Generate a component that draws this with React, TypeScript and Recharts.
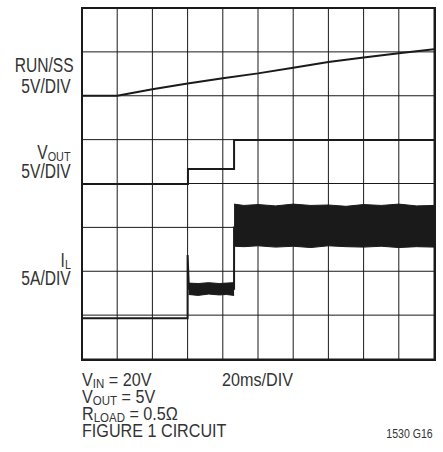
import React from 'react';
import { ComposedChart, Line, Area, XAxis, YAxis, CartesianGrid } from 'recharts';

// time axis: 10 divisions, level axis: 8 divisions (scope screen)
const xTicks = [0, 1, 2, 3, 4, 5, 6, 7, 8, 9, 10];
const yTicks = [0, 1, 2, 3, 4, 5, 6, 7, 8];

const runSsTime = [0, 1.0, 2.0, 3.0, 4.0, 5.0, 6.0, 7.0, 8.0, 9.0, 10];
const runSsLevel = [6.0, 6.0, 6.15, 6.28, 6.4, 6.51, 6.64, 6.77, 6.87, 6.97, 7.06];

const voutTime = [0, 3.01, 3.01, 4.32, 4.32, 10];
const voutLevel = [3.99, 3.99, 4.33, 4.33, 4.99, 4.99];

const ilTime = [0, 3.0, 3.0, 3.03, 3.03, 4.32, 4.32, 10];
const ilLevel = [0.93, 0.93, 2.37, 1.75, 1.6, 1.6, 3.0, 3.0];

// noisy inductor current bands (low / high edge)
const band1Time = [3.03, 3.3, 3.6, 3.9, 4.1, 4.32];
const band1Low = [1.47, 1.45, 1.48, 1.46, 1.47, 1.45];
const band1High = [1.73, 1.72, 1.74, 1.72, 1.73, 1.74];

const band2Time = [4.32, 4.6, 5.0, 5.5, 6.0, 6.5, 7.0, 7.5, 8.0, 8.5, 9.0, 9.5, 10];
const band2Low = [2.57, 2.56, 2.58, 2.55, 2.57, 2.54, 2.58, 2.56, 2.55, 2.57, 2.54, 2.56, 2.55];
const band2High = [3.53, 3.5, 3.52, 3.49, 3.53, 3.5, 3.51, 3.48, 3.52, 3.5, 3.53, 3.49, 3.5];

const runSsData = runSsTime.map((t, i) => ({ t, v: runSsLevel[i] }));
const voutData = voutTime.map((t, i) => ({ t, v: voutLevel[i] }));
const ilData = ilTime.map((t, i) => ({ t, v: ilLevel[i] }));
const band1Data = band1Time.map((t, i) => ({ t, r: [band1Low[i], band1High[i]] }));
const band2Data = band2Time.map((t, i) => ({ t, r: [band2Low[i], band2High[i]] }));

const font = "'Liberation Sans', Arial, sans-serif";
const ink = '#1a1a1a';

// narrow look of the original lettering
const narrowR: React.CSSProperties = { display: 'inline-block', transform: 'scaleX(0.8)', transformOrigin: 'right' };
const narrowL: React.CSSProperties = { display: 'inline-block', transform: 'scaleX(0.85)', transformOrigin: 'left' };

const labelStyle: React.CSSProperties = {
  position: 'absolute',
  left: 0,
  width: 71,
  textAlign: 'right',
  fontSize: 19.5,
  lineHeight: '19px',
  color: '#333',
  whiteSpace: 'nowrap',
};

const sub: React.CSSProperties = { fontSize: 13.5, position: 'relative', top: 2 };

const bottomLine: React.CSSProperties = { position: 'absolute', left: 82, fontSize: 19, lineHeight: '17px', color: '#333', whiteSpace: 'nowrap' };

export default function App() {
  return (
    <div style={{ position: 'absolute', left: 0, top: 0, width: 443, height: 452, background: '#fff', fontFamily: font }}>
      <ComposedChart width={443} height={452} margin={{ top: 8, left: 82, right: 9, bottom: 93 }}>
        <CartesianGrid stroke={ink} strokeWidth={1} />
        <XAxis type="number" dataKey="t" domain={[0, 10]} ticks={xTicks} hide allowDataOverflow />
        <YAxis type="number" domain={[0, 8]} ticks={yTicks} hide allowDataOverflow />
        <Area data={band1Data} dataKey="r" type="linear" stroke={ink} strokeWidth={1} fill={ink} fillOpacity={1} isAnimationActive={false} />
        <Area data={band2Data} dataKey="r" type="linear" stroke={ink} strokeWidth={1} fill={ink} fillOpacity={1} isAnimationActive={false} />
        <Line data={runSsData} dataKey="v" type="linear" stroke={ink} strokeWidth={2} dot={false} isAnimationActive={false} />
        <Line data={voutData} dataKey="v" type="linear" stroke={ink} strokeWidth={2} dot={false} isAnimationActive={false} />
        <Line data={ilData} dataKey="v" type="linear" stroke={ink} strokeWidth={2} dot={false} isAnimationActive={false} />
      </ComposedChart>

      {/* outer frame */}
      <div style={{ position: 'absolute', left: 81, top: 7, width: 351, height: 350, border: `2px solid ${ink}` }} />

      <div style={{ ...labelStyle, top: 56 }}><span style={narrowR}>RUN/SS</span></div>
      <div style={{ ...labelStyle, top: 77 }}><span style={narrowR}>5V/DIV</span></div>
      <div style={{ ...labelStyle, top: 143 }}><span style={narrowR}>V<span style={sub}>OUT</span></span></div>
      <div style={{ ...labelStyle, top: 162 }}><span style={narrowR}>5V/DIV</span></div>
      <div style={{ ...labelStyle, top: 251 }}><span style={narrowR}>I<span style={sub}>L</span></span></div>
      <div style={{ ...labelStyle, top: 269 }}><span style={narrowR}>5A/DIV</span></div>

      <div style={{ ...bottomLine, top: 371 }}><span style={narrowL}>V<span style={sub}>IN</span> = 20V</span></div>
      <div style={{ ...bottomLine, top: 388 }}><span style={narrowL}>V<span style={sub}>OUT</span> = 5V</span></div>
      <div style={{ ...bottomLine, top: 405 }}><span style={narrowL}>R<span style={sub}>LOAD</span> = 0.5Ω</span></div>
      <div style={{ ...bottomLine, top: 422 }}><span style={narrowL}>FIGURE 1 CIRCUIT</span></div>
      <div style={{ ...bottomLine, left: 222, top: 371 }}><span style={narrowL}>20ms/DIV</span></div>
      <div style={{ position: 'absolute', right: 10, top: 428, fontSize: 12, lineHeight: '12px', color: '#333', whiteSpace: 'nowrap' }}>
        <span style={{ ...narrowR, transform: 'scaleX(0.88)' }}>1530 G16</span>
      </div>
    </div>
  );
}
